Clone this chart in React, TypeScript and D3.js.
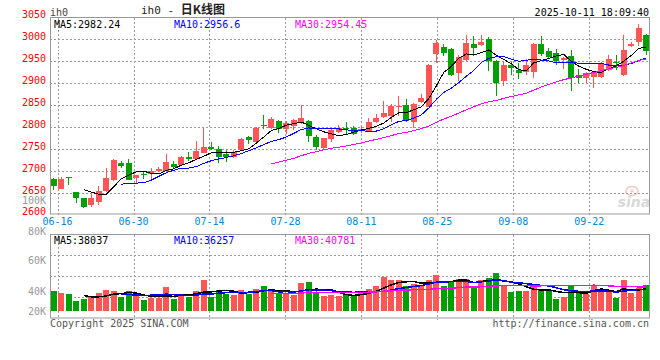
import React from 'react'
import * as d3 from 'd3'

// trading days shown (06-13 .. 10-10)
const dates = [
  '06-13',
  '06-16', '06-17', '06-18', '06-19', '06-20',
  '06-23', '06-24', '06-25', '06-26', '06-27',
  '06-30', '07-01', '07-02', '07-03', '07-04',
  '07-07', '07-08', '07-09', '07-10', '07-11',
  '07-14', '07-15', '07-16', '07-17', '07-18',
  '07-21', '07-22', '07-23', '07-24', '07-25',
  '07-28', '07-29', '07-30', '07-31', '08-01',
  '08-04', '08-05', '08-06', '08-07', '08-08',
  '08-11', '08-12', '08-13', '08-14', '08-15',
  '08-18', '08-19', '08-20', '08-21', '08-22',
  '08-25', '08-26', '08-27', '08-28', '08-29',
  '09-01', '09-02', '09-03', '09-04', '09-05',
  '09-08', '09-09', '09-10', '09-11', '09-12',
  '09-15', '09-16', '09-17', '09-18', '09-19',
  '09-22', '09-23', '09-24', '09-25', '09-26',
  '09-29', '09-30', '10-09', '10-10',
]

const opens = [
  2680, 2658, 2685, 2651, 2637, 2621, 2628, 2653, 2679, 2717,
  2717, 2683, 2692, 2692, 2699, 2699, 2715, 2713, 2731, 2726,
  2740, 2754, 2750, 2738, 2731, 2746, 2776, 2765, 2803, 2797,
  2813, 2795, 2801, 2810, 2813, 2776, 2751, 2772, 2787, 2797,
  2797, 2793, 2788, 2811, 2823, 2825, 2846, 2850, 2811, 2857,
  2846, 2966, 2983, 2978, 2922, 2952, 2990, 2987, 3001, 2951,
  2905, 2942, 2930, 2926, 2926, 2990, 2974, 2969, 2953, 2962,
  2919, 2912, 2914, 2914, 2930, 2947, 2919, 2985, 2994, 3010,
]
const highs = [
  2683, 2686, 2686, 2652, 2638, 2646, 2665, 2706, 2726, 2722,
  2726, 2690, 2699, 2706, 2708, 2738, 2722, 2733, 2742, 2767,
  2799, 2765, 2757, 2746, 2746, 2775, 2780, 2799, 2828, 2823,
  2815, 2813, 2817, 2850, 2815, 2781, 2775, 2795, 2803, 2810,
  2802, 2802, 2820, 2830, 2860, 2852, 2871, 2864, 2854, 2875,
  2943, 2999, 2990, 2981, 2965, 3010, 3008, 3010, 3006, 2952,
  2951, 2949, 2946, 2955, 2992, 3008, 2980, 2978, 2960, 2976,
  2932, 2925, 2928, 2948, 2965, 2965, 3010, 2994, 3035, 3012,
]
const lows = [
  2655, 2657, 2666, 2626, 2614, 2617, 2621, 2652, 2676, 2707,
  2678, 2670, 2681, 2681, 2697, 2699, 2704, 2713, 2722, 2724,
  2740, 2746, 2717, 2720, 2729, 2745, 2760, 2760, 2795, 2795,
  2786, 2784, 2792, 2806, 2765, 2746, 2750, 2765, 2785, 2781,
  2781, 2785, 2788, 2808, 2820, 2811, 2825, 2812, 2797, 2855,
  2845, 2946, 2962, 2915, 2905, 2950, 2962, 2985, 2928, 2871,
  2894, 2919, 2910, 2918, 2912, 2962, 2955, 2941, 2932, 2882,
  2900, 2900, 2889, 2912, 2928, 2930, 2917, 2983, 2985, 2964,
]
const closes = [
  2665, 2680, 2684, 2637, 2618, 2637, 2653, 2683, 2724, 2710,
  2679, 2690, 2690, 2699, 2704, 2720, 2708, 2731, 2726, 2744,
  2754, 2749, 2731, 2732, 2743, 2772, 2770, 2797, 2801, 2817,
  2795, 2808, 2815, 2820, 2779, 2755, 2774, 2792, 2797, 2794,
  2784, 2796, 2811, 2820, 2832, 2848, 2848, 2814, 2852, 2866,
  2942, 2992, 2969, 2919, 2960, 2992, 2981, 2994, 2951, 2900,
  2942, 2935, 2923, 2940, 2990, 2967, 2960, 2951, 2958, 2912,
  2912, 2923, 2926, 2946, 2955, 2946, 2976, 2990, 3026, 2974,
]
const volumes = [
  38000, 36200, 35300, 28900, 30700, 32500, 36200, 38900, 38000, 32500,
  38000, 33400, 29800, 31600, 31600, 41700, 30700, 35300, 32500, 38000,
  48100, 32500, 38900, 35300, 34400, 38900, 35300, 39800, 42600, 38900,
  35300, 35300, 34400, 45400, 46300, 37100, 33400, 34400, 33400, 35300,
  33400, 37100, 39800, 42600, 50800, 48100, 48100, 42600, 44400, 42600,
  48100, 52700, 42600, 47200, 49000, 49000, 40800, 48100, 49900, 54500,
  42600, 37100, 38000, 38000, 42600, 38900, 38000, 30700, 32500, 43500,
  38000, 35300, 42600, 39800, 38000, 31600, 48100, 36200, 40800, 43500,
]

const dateTicks = ['06-16', '06-30', '07-14', '07-28', '08-11', '08-25', '09-08', '09-22']
const priceTicks = [3050, 3000, 2950, 2900, 2850, 2800, 2750, 2700, 2650, 2600]
const volTicks = [100000, 80000, 60000, 40000, 20000]
const maPeriods = [5, 10, 30]
const maColors = ['#000000', '#0000ff', '#ff00ff']
const priceMaText = ['MA5:2982.24', 'MA10:2956.6', 'MA30:2954.45']
const volMaText = ['MA5:38037', 'MA10:36257', 'MA30:40781']

const UP = '#ff5555'
const DOWN = '#00a000'
const MONO = "'DejaVu Sans Mono', monospace"

function movingAvg(arr: number[], n: number) {
  return arr.map((_, i) => (i < n - 1 ? null : d3.mean(arr.slice(i - n + 1, i + 1)) as number))
}

const px = (v: number) => Math.round(v) + 0.5

export default function App() {
  const left = 50, right = 650
  const x = d3.scaleBand<string>().domain(dates).range([left, right]).paddingInner(0.2).paddingOuter(0.1)
  const bw = x.bandwidth()
  const cx = (i: number) => (x(dates[i]) as number) + bw / 2
  const gridX = d3.scaleLinear().domain([0, dates.length - 1]).range([left, right])

  const y = d3.scaleLinear().domain([2600, 3050]).range([214.4, 17.3])
  const pTop = 17.5, pBot = 214

  const vTop = 234.5, vBot = 318
  const yVol = d3.scaleLinear().domain([20000, 60000]).range([310.7, 267])
  const volLabelY = d3.scaleLinear().domain([20000, 40000, 60000, 80000, 100000]).range([311, 291, 260, 231, 200])
  const volGrid = d3.scaleLinear().domain([0, 4]).range([vTop, vBot])

  const isUp = (i: number) => closes[i] >= opens[i]

  const maLine = (ys: (v: number) => number) =>
    d3.line<number | null>()
      .defined(d => d != null)
      .x((_, i) => cx(i))
      .y(d => ys(d as number))

  const dot = { stroke: '#999', strokeWidth: 1, strokeDasharray: '2 2', shapeRendering: 'crispEdges' as const }

  return (
    <svg width={660} height={360} style={{ position: 'absolute', left: 0, top: 0, background: '#fff' }}
      fontFamily={MONO} fontSize={10}>
      <rect width={660} height={360} fill="#fff" />

      {/* header */}
      <text x={50} y={16} fill="#444">ih0</text>
      <text x={141} y={13.5} fill="#222" fontSize={11}>
        ih0 - <tspan fontFamily="'Noto Sans CJK SC', sans-serif" fontSize={12} fontWeight="bold">日K线图</tspan>
      </text>
      <text x={649} y={15.5} textAnchor="end" fill="#000">2025-10-11 18:09:40</text>

      {/* grid */}
      {priceTicks.filter(t => t > 2600 && t < 3050).map(t => (
        <line key={t} x1={left} x2={right} y1={px(y(t))} y2={px(y(t))} {...dot} />
      ))}
      {dateTicks.map(d => {
        const gx = gridX(dates.indexOf(d))
        return (
          <g key={d}>
            <line x1={px(gx)} x2={px(gx)} y1={pTop} y2={pBot + 2} {...dot} />
            <line x1={px(gx)} x2={px(gx)} y1={vTop} y2={vBot + 2} {...dot} />
            <text x={gx} y={225} textAnchor="middle" fill="#0088dd">{d}</text>
          </g>
        )
      })}
      {priceTicks.map(t => (
        <text key={t} x={46} y={y(t) + 1} textAnchor="end" fill="#ff0000">{t}</text>
      ))}

      {/* watermark */}
      <g opacity={0.55}>
        <ellipse cx={632} cy={191} rx={6} ry={4.5} fill="none" stroke="#e29a9a" strokeWidth={1.5} />
        <circle cx={632} cy={191} r={1.6} fill="#e29a9a" />
        <text x={634} y={207} textAnchor="middle" fontFamily="'DejaVu Sans', sans-serif" fontStyle="italic"
          fontWeight="bold" fontSize={14} fill="#bbbbbb">sina</text>
      </g>

      {/* candles */}
      {dates.map((d, i) => {
        const col = isUp(i) ? UP : DOWN
        const top = y(Math.max(opens[i], closes[i]))
        const bot = y(Math.min(opens[i], closes[i]))
        return (
          <g key={d} shapeRendering="crispEdges">
            <line x1={cx(i)} x2={cx(i)} y1={y(highs[i])} y2={y(lows[i])} stroke={col} strokeWidth={1} />
            <rect x={x(d)} y={top} width={bw} height={Math.max(1, bot - top)} fill={col} />
          </g>
        )
      })}

      {maPeriods.map((n, k) => (
        <path key={n} d={maLine(y)(movingAvg(closes, n)) || ''} fill="none" stroke={maColors[k]}
          strokeWidth={1} shapeRendering="crispEdges" />
      ))}

      <rect x={50.5} y={pTop} width={599} height={pBot - pTop} fill="none" stroke="#999" strokeWidth={1} />
      {priceMaText.map((t, k) => (
        <text key={t} x={[54, 174, 295][k]} y={27.6} fill={maColors[k]}>{t}</text>
      ))}

      {/* volume panel */}
      {[1, 2, 3].map(k => (
        <line key={k} x1={left} x2={right} y1={px(volGrid(k))} y2={px(volGrid(k))} {...dot} />
      ))}
      {volTicks.map(t => (
        <text key={t} x={46} y={volLabelY(t) + 3.6} textAnchor="end" fill="#999">{t / 1000}K</text>
      ))}
      {dates.map((d, i) => (
        <rect key={d} x={x(d)} y={yVol(volumes[i])} width={bw} height={yVol(20000) - yVol(volumes[i])}
          fill={isUp(i) ? UP : DOWN} shapeRendering="crispEdges" />
      ))}
      {maPeriods.map((n, k) => (
        <path key={n} d={maLine(yVol)(movingAvg(volumes, n)) || ''} fill="none" stroke={maColors[k]}
          strokeWidth={1.5} shapeRendering="crispEdges" />
      ))}
      <rect x={50.5} y={vTop} width={599} height={vBot - vTop} fill="none" stroke="#999" strokeWidth={1} />
      {volMaText.map((t, k) => (
        <text key={t} x={[54, 174, 295][k]} y={244.3} fill={maColors[k]}>{t}</text>
      ))}

      {/* footer */}
      <text x={50} y={326.5} fill="#555">Copyright 2025 SINA.COM</text>
      <text x={649} y={326.5} textAnchor="end" fill="#555">http://finance.sina.com.cn</text>
    </svg>
  )
}
